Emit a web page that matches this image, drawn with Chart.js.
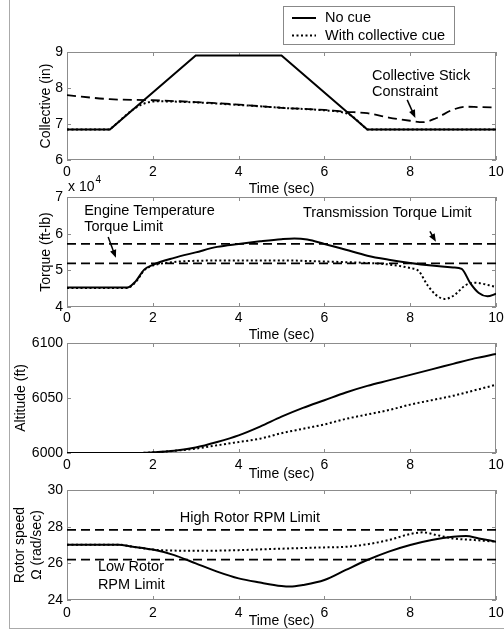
<!DOCTYPE html>
<html>
<head>
<meta charset="utf-8">
<script src="https://cdn.jsdelivr.net/npm/chart.js@4.4.1/dist/chart.umd.min.js"></script>
<style>
  html, body { margin: 0; padding: 0; background: #fff; }
  #fig { position: relative; width: 504px; height: 630px; overflow: hidden; }
  #fig canvas { position: absolute; left: 0; top: 0; }
  #edge { position: absolute; left: 9px; top: 0; width: 495px; height: 628px;
          border-left: 1px solid #aaa; border-bottom: 1px solid #aaa; }
</style>
</head>
<body>
<div id="fig">
  <div id="edge"></div>
  <canvas id="c1" width="504" height="630"></canvas>
  <canvas id="c2" width="504" height="630"></canvas>
  <canvas id="c3" width="504" height="630"></canvas>
  <canvas id="c4" width="504" height="630"></canvas>
</div>
<script>
// -------------------------
//      DATA
// -------------------------

const timeTicks = [0, 2, 4, 6, 8, 10];

// Collective (in)
const collTicks = [6, 7, 8, 9];
const collNoCueT = [0, 1.0, 3.0, 5.0, 7.0, 10];
const collNoCueY = [6.85, 6.85, 8.9, 8.9, 6.85, 6.85];
const collCueT = [0, 1.0, 1.05, 1.55, 1.8, 2.1, 3, 4, 5, 6, 6.4, 6.6, 6.95, 7.0, 10];
const collCueY = [6.85, 6.85, 6.9, 7.41, 7.57, 7.63, 7.6, 7.53, 7.45, 7.38, 7.33, 7.25, 6.9, 6.85, 6.85];
const constrT = [0, 1, 2, 3, 4, 5, 6, 6.5, 7, 7.5, 8, 8.3, 8.6, 9, 9.3, 9.6, 10];
const constrY = [7.8, 7.69, 7.66, 7.61, 7.54, 7.45, 7.39, 7.34, 7.3, 7.18, 7.09, 7.05, 7.16, 7.4, 7.48, 7.47, 7.46];

// Torque (ft-lb)
const torqTicks = [40000, 50000, 60000, 70000];
const torqNoCueT = [0, 1.4, 1.6, 1.8, 2, 2.5, 3, 3.5, 4, 4.5, 5, 5.3, 5.6, 6, 6.5, 7, 7.5, 8, 8.5, 9, 9.2, 9.4, 9.6, 9.8, 10];
const torqNoCueY = [45300, 45300, 47000, 50200, 51500, 53400, 54900, 56400, 57200, 57900, 58500, 58700, 58400, 57200,
                    55600, 54000, 52900, 52000, 51300, 50800, 50400, 46500, 43800, 42900, 43600];
const torqCueT = [0, 1.4, 1.6, 1.8, 2, 2.3, 3, 4, 5, 6, 7, 7.5, 8, 8.2, 8.4, 8.6, 8.8, 9, 9.3, 9.5, 10];
const torqCueY = [45200, 45200, 46800, 50000, 51300, 52000, 52600, 52700, 52700, 52400, 52000, 51600, 50600, 49800,
                  46000, 43300, 42200, 43000, 46000, 46600, 45500];
const transLimit = 57200;
const engineLimit = 51900;

// Altitude (ft)
const altTicks = [6000, 6050, 6100];
const altT = [0, 1.6, 2, 2.5, 3, 3.5, 4, 4.5, 5, 5.5, 6, 6.5, 7, 7.5, 8, 8.5, 9, 9.5, 10];
const altNoCue = [6000, 6000, 6000.6, 6002, 6005, 6010, 6016, 6024, 6033, 6041, 6048, 6055, 6061, 6066, 6071, 6076, 6081, 6086, 6090];
const altCue = [6000, 6000, 6000.5, 6002, 6004, 6007, 6010, 6013, 6018, 6022, 6026, 6031, 6035, 6039, 6044, 6048, 6052, 6057, 6062];

// Rotor speed (rad/sec)
const rotTicks = [24, 26, 28, 30];
const rotNoCueT = [0, 1.2, 1.5, 2, 2.5, 3, 3.5, 4, 4.5, 5, 5.2, 5.5, 6, 6.5, 7, 7.5, 8, 8.5, 9, 9.3, 9.6, 10];
const rotNoCueY = [27.02, 27.02, 26.92, 26.75, 26.45, 26.0, 25.55, 25.18, 24.95, 24.76, 24.73, 24.82, 25.09, 25.64,
                   26.18, 26.64, 27.0, 27.27, 27.45, 27.49, 27.36, 27.18];
const rotCueT = [0, 1.2, 1.5, 2, 2.2, 3, 4, 5, 6, 6.5, 7, 7.5, 8, 8.3, 8.6, 9, 9.5, 10];
const rotCueY = [27.02, 27.02, 26.92, 26.75, 26.72, 26.68, 26.72, 26.8, 26.87, 26.9, 27.04, 27.27, 27.6, 27.69,
                 27.55, 27.36, 27.27, 27.18];
const rpmHigh = 27.82;
const rpmLow = 26.2;

// -------------------------

const FONT = "'Liberation Sans', Arial, Helvetica, sans-serif";
Chart.defaults.font.family = FONT;
Chart.defaults.font.size = 14;
Chart.defaults.color = '#000';

const pts = (xs, ys) => xs.map((x, i) => ({ x, y: ys[i] }));
const flat = (v) => timeTicks.filter((t, i) => i === 0 || i === timeTicks.length - 1).map(x => ({ x, y: v }));

function solid(label, data, smooth) {
    return { label, data, borderColor: '#000', borderWidth: 2, pointRadius: 0,
             tension: 0, cubicInterpolationMode: smooth ? 'monotone' : 'default' };
}
function dotted(label, data) {
    return { label, data, borderColor: '#000', borderWidth: 2, borderDash: [2, 2.5], pointRadius: 0,
             cubicInterpolationMode: 'monotone' };
}
function dashed(label, data) {
    return { label, data, borderColor: '#000', borderWidth: 1.8, borderDash: [9, 5], pointRadius: 0,
             cubicInterpolationMode: 'monotone' };
}

// frame with inward ticks on all four sides
const framePlugin = {
    id: 'frame',
    beforeDatasetsDraw(chart) {
        const { ctx, chartArea: a, scales: { x, y } } = chart;
        ctx.save();
        ctx.strokeStyle = '#8c8c8c';
        ctx.lineWidth = 1;
        ctx.strokeRect(a.left + 0.5, a.top + 0.5, a.width - 1, a.height - 1);
        ctx.beginPath();
        x.ticks.forEach(t => {
            const p = Math.round(x.getPixelForValue(t.value)) + 0.5;
            ctx.moveTo(p, a.top); ctx.lineTo(p, a.top + 4);
            ctx.moveTo(p, a.bottom); ctx.lineTo(p, a.bottom - 4);
        });
        y.ticks.forEach(t => {
            const p = Math.round(y.getPixelForValue(t.value)) + 0.5;
            ctx.moveTo(a.left, p); ctx.lineTo(a.left + 4, p);
            ctx.moveTo(a.right, p); ctx.lineTo(a.right - 4, p);
        });
        ctx.stroke();
        ctx.restore();
    }
};

// text notes and arrows, placed in data coordinates
function notesPlugin(notes) {
    return {
        id: 'notes',
        afterDatasetsDraw(chart) {
            const { ctx, scales: { x, y } } = chart;
            ctx.save();
            ctx.fillStyle = '#000';
            ctx.strokeStyle = '#000';
            ctx.font = '14.5px ' + FONT;
            ctx.textAlign = 'left';
            ctx.textBaseline = 'middle';
            (notes.texts || []).forEach(n => ctx.fillText(n.s, x.getPixelForValue(n.t), y.getPixelForValue(n.v)));
            (notes.arrows || []).forEach(n => {
                const x1 = x.getPixelForValue(n.t1), y1 = y.getPixelForValue(n.v1);
                const x2 = x.getPixelForValue(n.t2), y2 = y.getPixelForValue(n.v2);
                const ang = Math.atan2(y2 - y1, x2 - x1);
                ctx.lineWidth = 1.5;
                ctx.beginPath();
                ctx.moveTo(x1, y1);
                ctx.lineTo(x2 - 5 * Math.cos(ang), y2 - 5 * Math.sin(ang));
                ctx.stroke();
                ctx.beginPath();
                ctx.moveTo(x2, y2);
                ctx.lineTo(x2 - 8 * Math.cos(ang) + 3.2 * Math.sin(ang), y2 - 8 * Math.sin(ang) - 3.2 * Math.cos(ang));
                ctx.lineTo(x2 - 8 * Math.cos(ang) - 3.2 * Math.sin(ang), y2 - 8 * Math.sin(ang) + 3.2 * Math.cos(ang));
                ctx.closePath();
                ctx.fill();
            });
            if (notes.exponent) {
                const a = chart.chartArea;
                ctx.font = '14px ' + FONT;
                ctx.fillText('x 10', a.left + 1, a.top - 10);
                const w = ctx.measureText('x 10').width;
                ctx.font = '10px ' + FONT;
                ctx.fillText('4', a.left + 1 + w + 1, a.top - 17);
            }
            ctx.restore();
        }
    };
}

// boxed legend above the first panel
const legendPlugin = {
    id: 'boxLegend',
    afterDraw(chart) {
        const { ctx } = chart;
        const items = chart.data.datasets.slice(0, 2);
        ctx.save();
        ctx.fillStyle = '#fff';
        ctx.fillRect(283, 6, 171, 38);
        ctx.strokeStyle = '#888';
        ctx.lineWidth = 1;
        ctx.strokeRect(283.5, 6.5, 171, 38);
        ctx.font = '14.5px ' + FONT;
        ctx.textBaseline = 'middle';
        items.forEach((ds, i) => {
            const yy = 18 + i * 17.5;
            ctx.strokeStyle = ds.borderColor;
            ctx.lineWidth = ds.borderWidth;
            ctx.setLineDash(ds.borderDash || []);
            ctx.beginPath();
            ctx.moveTo(292, yy); ctx.lineTo(316, yy);
            ctx.stroke();
            ctx.fillStyle = '#000';
            ctx.fillText(ds.label, 325, yy);
        });
        ctx.restore();
    }
};

function xAxis(labelPad, titlePad, height) {
    return {
        type: 'linear', min: 0, max: 10,
        afterBuildTicks: s => { s.ticks = timeTicks.map(v => ({ value: v })); },
        grid: { display: false, drawTicks: false },
        border: { display: false },
        ticks: { padding: labelPad, maxRotation: 0, autoSkip: false },
        title: { display: true, text: 'Time (sec)', padding: { top: 0, bottom: titlePad } },
        afterFit: s => { s.height = height; s.paddingLeft = 0; s.paddingRight = 0; }
    };
}

function yAxis(tickVals, title, titlePad, fmt, lh) {
    return {
        min: tickVals[0], max: tickVals[tickVals.length - 1],
        afterBuildTicks: s => { s.ticks = tickVals.map(v => ({ value: v })); },
        grid: { display: false, drawTicks: false },
        border: { display: false },
        ticks: { padding: 4, autoSkip: false, callback: fmt || (v => v) },
        title: { display: true, text: title, padding: { top: titlePad, bottom: 0 },
                 font: { size: 14, lineHeight: lh || 1.2 } },
        afterFit: s => { s.width = 67; s.paddingTop = 0; s.paddingBottom = 0; }
    };
}

function makeChart(id, datasets, top, bottom, axisH, x, y, plugins) {
    return new Chart(document.getElementById(id), {
        type: 'line',
        data: { datasets },
        options: {
            responsive: false,
            animation: false,
            devicePixelRatio: 1,
            layout: { padding: { top, left: 0, right: 8, bottom: 630 - bottom - axisH } },
            plugins: { legend: { display: false }, tooltip: { enabled: false } },
            scales: { x, y }
        },
        plugins: [framePlugin, ...plugins]
    });
}

// -------------------------
//      PANELS
// -------------------------

makeChart('c1', [
    solid('No cue', pts(collNoCueT, collNoCueY), false),
    dotted('With collective cue', pts(collCueT, collCueY)),
    dashed('Collective Stick Constraint', pts(constrT, constrY))
], 52, 160, 40, xAxis(3.6, 2.6, 40), yAxis(collTicks, 'Collective (in)', 37.6), [
    notesPlugin({
        texts: [{ t: 7.11, v: 8.33, s: 'Collective Stick' }, { t: 7.11, v: 7.89, s: 'Constraint' }],
        arrows: [{ t1: 7.93, v1: 7.67, t2: 8.12, v2: 7.17 }]
    }),
    legendPlugin
]);

makeChart('c2', [
    solid('No cue', pts(torqNoCueT, torqNoCueY), true),
    dotted('With collective cue', pts(torqCueT, torqCueY)),
    dashed('Transmission Torque Limit', flat(transLimit)),
    dashed('Engine Temperature Torque Limit', flat(engineLimit))
], 197, 307, 40, xAxis(2.6, 3.6, 40), yAxis(torqTicks, 'Torque (ft-lb)', 37.6, v => v / 10000), [
    notesPlugin({
        texts: [{ t: 0.40, v: 66200, s: 'Engine Temperature' }, { t: 0.40, v: 61800, s: 'Torque Limit' },
                { t: 5.5, v: 65600, s: 'Transmission Torque Limit' }],
        arrows: [{ t1: 0.96, v1: 59100, t2: 1.14, v2: 53400 }, { t1: 8.46, v1: 60600, t2: 8.6, v2: 57800 }],
        exponent: true
    })
]);

makeChart('c3', [
    solid('No cue', pts(altT, altNoCue), true),
    dotted('With collective cue', pts(altT, altCue))
], 343, 453, 30, xAxis(3.6, 0.6, 30), yAxis(altTicks, 'Altitude (ft)', 12.6), []);

makeChart('c4', [
    solid('No cue', pts(rotNoCueT, rotNoCueY), true),
    dotted('With collective cue', pts(rotCueT, rotCueY)),
    dashed('High Rotor RPM Limit', flat(rpmHigh)),
    dashed('Low Rotor RPM Limit', flat(rpmLow))
], 490, 600, 30, xAxis(4.6, 0, 30), yAxis(rotTicks, ['Rotor speed', 'Ω (rad/sec)'], 11.25, null, 1.25), [
    notesPlugin({
        texts: [{ t: 2.63, v: 28.47, s: 'High Rotor RPM Limit' },
                { t: 0.72, v: 25.8, s: 'Low Rotor' }, { t: 0.72, v: 24.82, s: 'RPM Limit' }]
    })
]);
</script>
</body>
</html>
